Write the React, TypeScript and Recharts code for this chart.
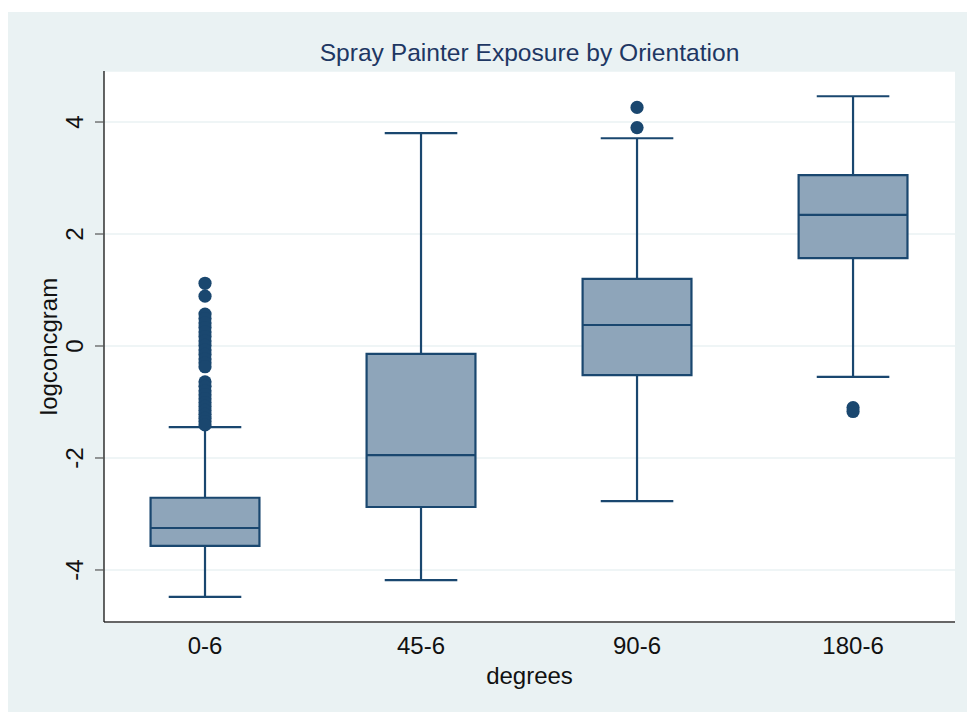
import React from 'react';
import {
  ComposedChart,
  XAxis,
  YAxis,
  CartesianGrid,
  Scatter,
  ReferenceArea,
  ReferenceLine,
} from 'recharts';

// ---- data ----
const categories = ['0-6', '45-6', '90-6', '180-6'];
const lowerWhisker = [-4.48, -4.18, -2.77, -0.55];
const q1 = [-3.57, -2.875, -0.52, 1.57];
const median = [-3.25, -1.95, 0.375, 2.34];
const q3 = [-2.71, -0.14, 1.2, 3.05];
const upperWhisker = [-1.45, 3.8, 3.71, 4.46];
const outliers0 = [
  1.12, 0.89, 0.57, 0.49, 0.41, 0.33, 0.25, 0.17, 0.09, 0.01, -0.07, -0.15, -0.23, -0.3, -0.37,
  -0.64, -0.72, -0.8, -0.87, -0.94, -1.01, -1.08, -1.15, -1.22, -1.29, -1.35, -1.41,
];
const outliers1: number[] = [];
const outliers2 = [3.9, 4.26];
const outliers3 = [-1.1, -1.17];
const yTicks = [-4, -2, 0, 2, 4];

const title = 'Spray Painter Exposure by Orientation';
const xLabel = 'degrees';
const yLabel = 'logconcgram';

// ---- style ----
const NAVY = '#1A476F';
const BOX_FILL = '#8EA5BA';
const BG = '#EAF2F3';
const FONT = '"Liberation Sans", Arial, Helvetica, sans-serif';
const FS = 24;
const BOX_HALF = 0.252;
const CAP_HALF = 0.168;

const positions = categories.map((_, i) => i + 1);
const outlierGroups = [outliers0, outliers1, outliers2, outliers3];
const outlierData = outlierGroups.flatMap((g, i) => g.map((v) => ({ x: positions[i], y: v })));

const YTick = (props: any) => {
  const { y, payload } = props;
  const tx = 75;
  return (
    <text
      x={tx}
      y={y}
      transform={`rotate(-90, ${tx}, ${y})`}
      textAnchor="middle"
      fontSize={FS}
      fontFamily={FONT}
      fill="#111"
    >
      {payload.value}
    </text>
  );
};

const XTick = (props: any) => {
  const { x, y, payload } = props;
  return (
    <text x={x} y={y + 32} textAnchor="middle" fontSize={FS} fontFamily={FONT} fill="#111">
      {categories[payload.value - 1]}
    </text>
  );
};

const XLabel = (props: any) => {
  const vb = props.viewBox || {};
  return (
    <text
      x={vb.x + vb.width / 2}
      y={vb.y + 62}
      textAnchor="middle"
      fontSize={FS}
      fontFamily={FONT}
      fill="#111"
    >
      {xLabel}
    </text>
  );
};

const YLabel = (props: any) => {
  const vb = props.viewBox || {};
  const tx = 48.5;
  const ty = vb.y + vb.height / 2;
  return (
    <text
      x={tx}
      y={ty}
      transform={`rotate(-90, ${tx}, ${ty})`}
      textAnchor="middle"
      fontSize={FS}
      fontFamily={FONT}
      fill="#111"
    >
      {yLabel}
    </text>
  );
};

const Dot = (p: any) => <circle cx={p.cx} cy={p.cy} r={6.6} fill={NAVY} stroke="none" />;

export default function App() {
  return (
    <div
      style={{
        position: 'fixed',
        left: 8,
        top: 12,
        width: 959,
        height: 700,
        background: BG,
        overflow: 'hidden',
      }}
    >
      <ComposedChart
        width={959}
        height={700}
        margin={{ top: 59, right: 12, bottom: 0, left: 0 }}
        data={outlierData}
      >
        <CartesianGrid
          vertical={false}
          horizontal={true}
          fill="#FFFFFF"
          fillOpacity={1}
          stroke={BG}
          strokeWidth={1.6}
        />
        <XAxis
          dataKey="x"
          type="number"
          domain={[0.5324, 4.472]}
          ticks={positions}
          allowDataOverflow
          height={90}
          tickLine={false}
          tickSize={0}
          tickMargin={0}
          axisLine={{ stroke: '#666666', strokeWidth: 2 }}
          tick={<XTick />}
          interval={0}
          label={<XLabel />}
        />
        <YAxis
          type="number"
          domain={[-4.929, 4.911]}
          ticks={yTicks}
          allowDataOverflow
          width={96}
          tickSize={9}
          tickLine={{ stroke: '#555555', strokeWidth: 1.2 }}
          axisLine={{ stroke: '#111111', strokeWidth: 1.3 }}
          tick={<YTick />}
          interval={0}
          label={<YLabel />}
        />
        {positions.map((p, i) => (
          <ReferenceLine
            key={`wl-${i}`}
            segment={[
              { x: p, y: lowerWhisker[i] },
              { x: p, y: q1[i] },
            ]}
            stroke={NAVY}
            strokeWidth={2.2}
          />
        ))}
        {positions.map((p, i) => (
          <ReferenceLine
            key={`wu-${i}`}
            segment={[
              { x: p, y: q3[i] },
              { x: p, y: upperWhisker[i] },
            ]}
            stroke={NAVY}
            strokeWidth={2.2}
          />
        ))}
        {positions.map((p, i) => (
          <ReferenceLine
            key={`cl-${i}`}
            segment={[
              { x: p - CAP_HALF, y: lowerWhisker[i] },
              { x: p + CAP_HALF, y: lowerWhisker[i] },
            ]}
            stroke={NAVY}
            strokeWidth={2.2}
          />
        ))}
        {positions.map((p, i) => (
          <ReferenceLine
            key={`cu-${i}`}
            segment={[
              { x: p - CAP_HALF, y: upperWhisker[i] },
              { x: p + CAP_HALF, y: upperWhisker[i] },
            ]}
            stroke={NAVY}
            strokeWidth={2.2}
          />
        ))}
        {positions.map((p, i) => (
          <ReferenceArea
            key={`box-${i}`}
            x1={p - BOX_HALF}
            x2={p + BOX_HALF}
            y1={q1[i]}
            y2={q3[i]}
            fill={BOX_FILL}
            fillOpacity={1}
            stroke={NAVY}
            strokeWidth={2.2}
          />
        ))}
        {positions.map((p, i) => (
          <ReferenceLine
            key={`md-${i}`}
            segment={[
              { x: p - BOX_HALF, y: median[i] },
              { x: p + BOX_HALF, y: median[i] },
            ]}
            stroke={NAVY}
            strokeWidth={2.2}
          />
        ))}
        <Scatter data={outlierData} dataKey="y" shape={Dot} isAnimationActive={false} />
      </ComposedChart>
      <svg
        width={959}
        height={70}
        style={{ position: 'absolute', left: 0, top: 0, pointerEvents: 'none' }}
      >
        <text x={521.5} y={49} textAnchor="middle" fontSize={24.6} fontFamily={FONT} fill="#1E3763">
          {title}
        </text>
      </svg>
    </div>
  );
}
